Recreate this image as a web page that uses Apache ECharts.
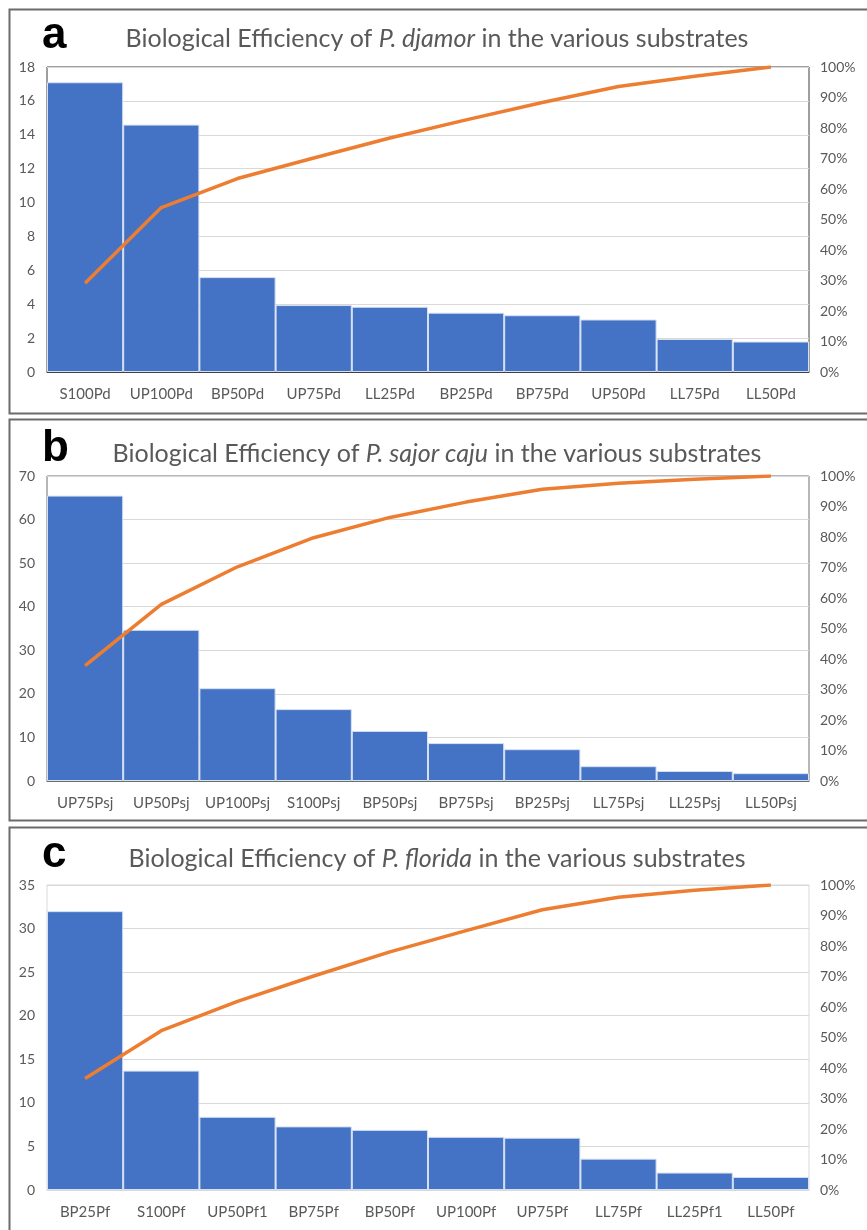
<!DOCTYPE html>
<html>
<head>
<meta charset="utf-8">
<style>
  html, body { margin: 0; padding: 0; background: #ffffff; }
  #chart { width: 867px; height: 1230px; }
</style>
<script src="https://cdn.jsdelivr.net/npm/echarts@6/dist/echarts.min.js"></script>
</head>
<body>
<div id="chart"></div>
<script>
// Biological efficiency by substrate, sorted high to low, with cumulative share (Pareto)
const categoriesA = ['S100Pd', 'UP100Pd', 'BP50Pd', 'UP75Pd', 'LL25Pd', 'BP25Pd', 'BP75Pd', 'UP50Pd', 'LL75Pd', 'LL50Pd'];
const valuesA = [17.1, 14.6, 5.6, 3.95, 3.85, 3.5, 3.35, 3.1, 1.95, 1.8];

const categoriesB = ['UP75Psj', 'UP50Psj', 'UP100Psj', 'S100Psj', 'BP50Psj', 'BP75Psj', 'BP25Psj', 'LL75Psj', 'LL25Psj', 'LL50Psj'];
const valuesB = [65.5, 34.7, 21.3, 16.5, 11.5, 8.7, 7.3, 3.4, 2.3, 1.8];

const categoriesC = ['BP25Pf', 'S100Pf', 'UP50Pf1', 'BP75Pf', 'BP50Pf', 'UP100Pf', 'UP75Pf', 'LL75Pf', 'LL25Pf1', 'LL50Pf'];
const valuesC = [32.0, 13.7, 8.4, 7.3, 6.9, 6.1, 6.0, 3.6, 2.0, 1.5];

const speciesNames = ['P. djamor', 'P. sajor caju', 'P. florida'];
const panelLetters = ['a', 'b', 'c'];
const leftAxisMax = [18, 70, 35];
const leftAxisStep = [2, 10, 5];

// Pareto line: running total as a share of the panel total
function cumulativeShare(values) {
  const total = values.reduce((s, v) => s + v, 0);
  let run = 0;
  return values.map(v => { run += v; return run / total; });
}

const panels = [
  { cats: categoriesA, vals: valuesA, top: 67, frameTop: 9, frameBottom: 413, titleY: 36, letterY: 50, border: '#3f3f3f' },
  { cats: categoriesB, vals: valuesB, top: 476, frameTop: 419, frameBottom: 820, titleY: 451, letterY: 463, border: '#6e6e6e' },
  { cats: categoriesC, vals: valuesC, top: 885, frameTop: 827, frameBottom: 1240, titleY: 856, letterY: 869, border: '#d9d9d9' }
];

const FONT = 'Lato, "Open Sans", sans-serif';
const TEXT = '#595959';

const grid = [], xAxis = [], yAxis = [], series = [], title = [], graphic = [];

panels.forEach((p, i) => {
  grid.push({
    left: 47, right: 58, top: p.top, height: 305,
    show: true, borderColor: p.border, borderWidth: 1, backgroundColor: 'transparent'
  });
  xAxis.push({
    type: 'category', gridIndex: i, data: p.cats, boundaryGap: true,
    axisTick: { show: false },
    axisLine: { show: true, lineStyle: { color: p.border, width: 1 } },
    axisLabel: { color: TEXT, fontFamily: FONT, fontSize: 15, margin: 15, interval: 0 }
  });
  yAxis.push({
    type: 'value', gridIndex: i, min: 0, max: leftAxisMax[i], interval: leftAxisStep[i],
    axisLine: { show: false }, axisTick: { show: false },
    splitLine: { show: true, lineStyle: { color: '#d9d9d9', width: 1 } },
    axisLabel: { color: TEXT, fontFamily: FONT, fontSize: 14, margin: 12 }
  });
  yAxis.push({
    type: 'value', gridIndex: i, position: 'right', min: 0, max: 1, interval: 0.1,
    axisLine: { show: false }, axisTick: { show: false }, splitLine: { show: false },
    axisLabel: {
      color: TEXT, fontFamily: FONT, fontSize: 14, margin: 11,
      formatter: v => Math.round(v * 100) + '%'
    }
  });
  series.push({
    type: 'bar', xAxisIndex: i, yAxisIndex: 2 * i, data: p.vals,
    barCategoryGap: '0%',
    itemStyle: { color: '#4472C4', borderColor: '#d6e0f3', borderWidth: 1 },
    silent: true
  });
  series.push({
    type: 'line', xAxisIndex: i, yAxisIndex: 2 * i + 1, data: cumulativeShare(p.vals),
    symbol: 'none', lineStyle: { color: '#ED7D31', width: 3.5 }, z: 5, silent: true
  });
  title.push({
    text: '{n|Biological Efficiency of }{i|' + speciesNames[i] + '}{n| in the various substrates}',
    left: 432, top: p.titleY - 15, textAlign: 'center',
    textStyle: {
      fontWeight: 'normal',
      rich: {
        n: { fontFamily: FONT, fontSize: 25, fontWeight: 'normal', color: TEXT },
        i: { fontFamily: FONT, fontSize: 25, fontWeight: 'normal', color: TEXT, fontStyle: 'italic' }
      }
    }
  });
  // panel frame
  graphic.push({
    type: 'rect', silent: true, z: -1,
    shape: { x: 9.5, y: p.frameTop + 0.5, width: 870, height: p.frameBottom - p.frameTop },
    style: { fill: 'none', stroke: '#6b6b6b', lineWidth: 2 }
  });
  // panel letter
  graphic.push({
    type: 'text', silent: true, left: 42, top: p.letterY - 36,
    style: {
      text: panelLetters[i], fill: '#000000',
      font: 'bold 44px "Liberation Sans", Arial, sans-serif'
    }
  });
});

const chart = echarts.init(document.getElementById('chart'), null, { renderer: 'canvas' });
chart.setOption({
  animation: false,
  backgroundColor: '#ffffff',
  title, grid, xAxis, yAxis, series, graphic
});
</script>
</body>
</html>
